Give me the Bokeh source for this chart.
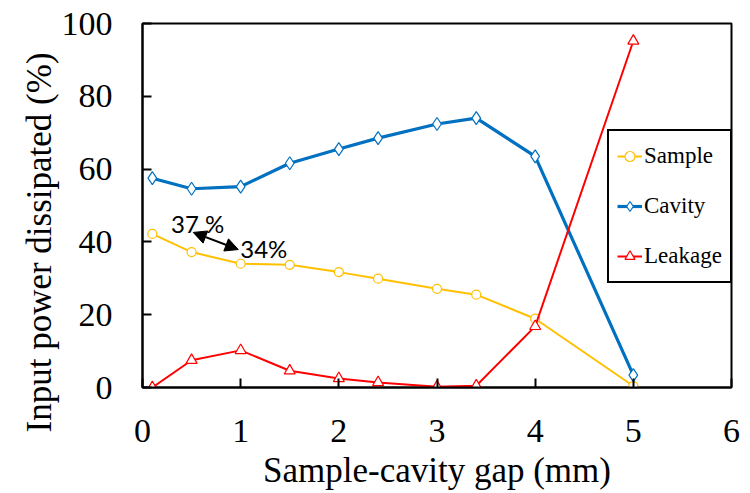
from bokeh.plotting import figure
from bokeh.models import (Range1d, FixedTicker, Label, Arrow, NormalHead, Legend, LegendItem, Title)
from bokeh.embed import file_html
from bokeh.resources import INLINE

# ---- data ----
gap_mm = [0.1, 0.5, 1.0, 1.5, 2.0, 2.4, 3.0, 3.4, 4.0, 5.0]
sample = [42.2, 37.2, 34.0, 33.7, 31.7, 29.9, 27.1, 25.5, 18.9, 0.4]
cavity = [57.5, 54.6, 55.2, 61.6, 65.5, 68.5, 72.4, 74.0, 63.5, 3.4]
leakage = [0.0, 7.5, 10.2, 4.6, 2.5, 1.4, 0.2, 0.5, 16.8, 95.2]
x_ticks = [0, 1, 2, 3, 4, 5, 6]
y_ticks = [0, 20, 40, 60, 80, 100]
x_title = "Sample-cavity gap (mm)"
y_title = "Input power dissipated (%)"
note_a = "37 %"
note_b = "34%"

SERIF = "Liberation Serif"

p = figure(width=750, height=493, output_backend="svg", toolbar_location=None,
           x_range=Range1d(0, 6), y_range=Range1d(0, 100),
           min_border_left=142, min_border_right=19, min_border_top=23, min_border_bottom=106)
p.grid.visible = False
p.background_fill_color = "white"
p.border_fill_color = "white"
p.outline_line_color = "black"
p.outline_line_width = 2
p.outline_line_alpha = 1

for ax, ticks in ((p.xaxis[0], x_ticks), (p.yaxis[0], y_ticks)):
    ax.ticker = FixedTicker(ticks=ticks)
    ax.axis_line_color = "black"
    ax.axis_line_width = 2
    ax.major_tick_in = 9
    ax.major_tick_out = 0
    ax.major_tick_line_width = 2
    ax.major_tick_line_color = "black"
    ax.minor_tick_line_color = None
    ax.major_label_text_font = SERIF
    ax.major_label_text_font_size = "34px"
    ax.major_label_text_color = "black"
p.xaxis.major_label_standoff = 32
p.yaxis.major_label_standoff = 30

p.xaxis.axis_label = x_title
p.xaxis.axis_label_text_font = SERIF
p.xaxis.axis_label_text_font_size = "35px"
p.xaxis.axis_label_text_font_style = "normal"
p.xaxis.axis_label_text_color = "black"
p.xaxis.axis_label_standoff = 6

ytitle = Title(text=y_title, align="left", offset=-45, text_font=SERIF,
               text_font_size="35px", text_font_style="normal", text_color="black",
               standoff=0)
p.add_layout(ytitle, "left")

# series
r_s_line = p.line(gap_mm, sample, line_color="#FFC000", line_width=2)
r_s_mark = p.scatter(gap_mm, sample, marker="circle", size=9, line_color="#FFC000",
                     fill_color="white", line_width=1.2)
r_c_line = p.line(gap_mm, cavity, line_color="#0070C0", line_width=3.2)
r_c_mark = p.scatter(gap_mm, cavity, marker="diamond", size=13, line_color="#0070C0",
                     fill_color="white", line_width=1.2)
r_l_line = p.line(gap_mm, leakage, line_color="#FF0000", line_width=2)
r_l_mark = p.scatter(gap_mm, leakage, marker="triangle", size=11, line_color="#FF0000",
                     fill_color="white", line_width=1.2)

legend = Legend(items=[
    LegendItem(label="Sample", renderers=[r_s_line, r_s_mark]),
    LegendItem(label="Cavity", renderers=[r_c_line, r_c_mark]),
    LegendItem(label="Leakage", renderers=[r_l_line, r_l_mark]),
], location=(465, 104))
legend.label_text_font = SERIF
legend.label_text_font_size = "23px"
legend.label_text_color = "black"
legend.border_line_color = "black"
legend.border_line_width = 2
legend.border_line_alpha = 1
legend.background_fill_color = "white"
legend.background_fill_alpha = 1
legend.padding = 8
legend.spacing = 16
legend.label_height = 34
legend.glyph_height = 34
legend.glyph_width = 25
legend.label_standoff = 2
legend.margin = 0
p.add_layout(legend, "center")

# annotations
p.add_layout(Arrow(x_start=0.517, y_start=42.6, x_end=0.976, y_end=37.9,
                   line_color="black", line_width=2,
                   start=NormalHead(size=13, fill_color="black", line_color="black"),
                   end=NormalHead(size=13, fill_color="black", line_color="black")))
p.add_layout(Label(x=0.29, y=45.1, text=note_a, text_font="Lato",
                   text_font_size="24px", text_color="black", text_baseline="alphabetic"))
p.add_layout(Label(x=0.996, y=38.2, text=note_b, text_font="Lato",
                   text_font_size="24px", text_color="black", text_baseline="alphabetic"))

open("out.html", "w").write(file_html(p, INLINE))
